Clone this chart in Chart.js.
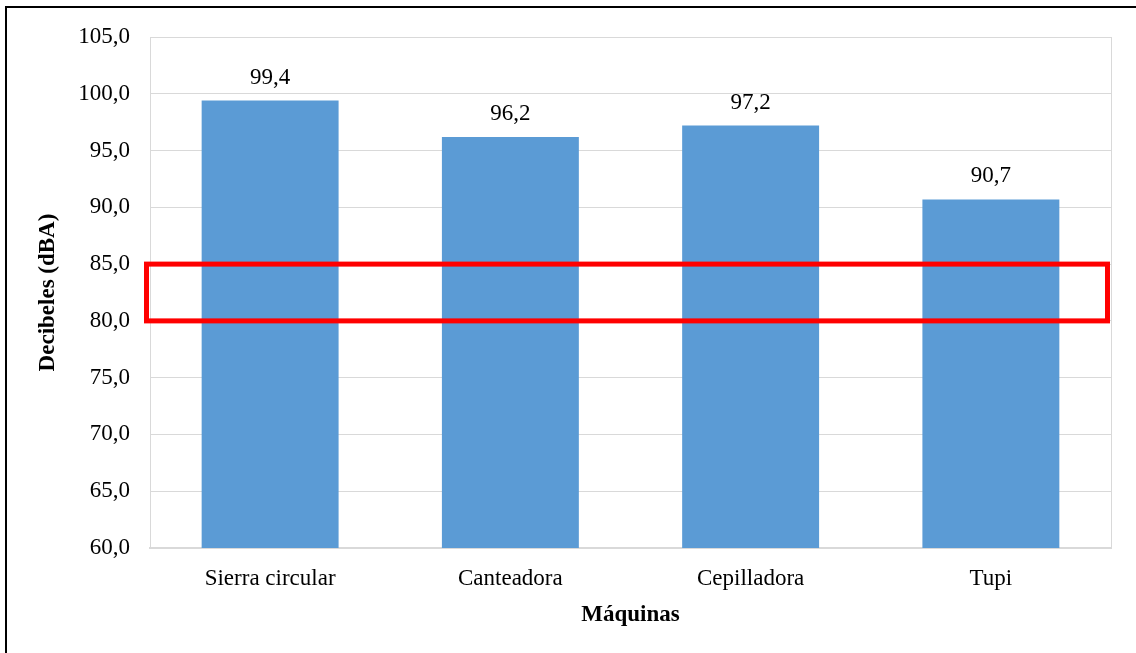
<!DOCTYPE html>
<html>
<head>
<meta charset="utf-8">
<script src="https://cdn.jsdelivr.net/npm/chart.js@4/dist/chart.umd.min.js"></script>
<style>
  html, body { margin: 0; padding: 0; background: #ffffff; }
  #wrap { width: 1136px; height: 653px; position: relative; }
</style>
</head>
<body>
<div id="wrap"><canvas id="chart" width="1136" height="653"></canvas></div>
<script>
// Noise level per machine (dBA)
const machines = ['Sierra circular', 'Canteadora', 'Cepilladora', 'Tupi'];
const decibels = [99.4, 96.2, 97.2, 90.7];
const yTicks = [60, 65, 70, 75, 80, 85, 90, 95, 100, 105];
// Exposure band highlighted on the chart (dBA)
const limitBand = [80, 85];

const fmt = v => v.toFixed(1).replace('.', ',');
const SERIF = '"Liberation Serif", "Times New Roman", serif';

const decorPlugin = {
  id: 'decor',
  beforeDraw(chart) {
    const { ctx, chartArea: a } = chart;
    ctx.save();
    ctx.fillStyle = '#ffffff';
    ctx.fillRect(0, 0, chart.width, chart.height);
    // outer frame: top and left edges
    ctx.strokeStyle = '#000000';
    ctx.lineWidth = 2;
    ctx.beginPath();
    ctx.moveTo(6, chart.height);
    ctx.lineTo(6, 7);
    ctx.lineTo(chart.width, 7);
    ctx.stroke();
    // right edge of the plot area
    ctx.strokeStyle = '#d9d9d9';
    ctx.lineWidth = 1;
    ctx.beginPath();
    ctx.moveTo(Math.round(a.right) + 0.5, a.top);
    ctx.lineTo(Math.round(a.right) + 0.5, a.bottom);
    ctx.stroke();
    ctx.restore();
  },
  afterDatasetsDraw(chart) {
    const { ctx, chartArea: a, scales } = chart;
    ctx.save();
    // value labels above the bars
    ctx.fillStyle = '#000000';
    ctx.font = '23px ' + SERIF;
    ctx.textAlign = 'center';
    ctx.textBaseline = 'alphabetic';
    const meta = chart.getDatasetMeta(0);
    meta.data.forEach((bar, i) => {
      ctx.fillText(fmt(decibels[i]), bar.x, bar.y - 17);
    });
    // highlighted band
    const yTop = scales.y.getPixelForValue(limitBand[1]);
    const yBot = scales.y.getPixelForValue(limitBand[0]);
    ctx.strokeStyle = '#ff0000';
    ctx.lineWidth = 5;
    ctx.strokeRect(a.left - 3.5, yTop, (a.right - 3.5) - (a.left - 3.5), yBot - yTop);
    ctx.restore();
  }
};

new Chart(document.getElementById('chart'), {
  type: 'bar',
  data: {
    labels: machines,
    datasets: [{
      data: decibels,
      backgroundColor: '#5b9bd5',
      borderWidth: 0,
      barPercentage: 0.57,
      categoryPercentage: 1
    }]
  },
  options: {
    responsive: false,
    animation: false,
    devicePixelRatio: 1,
    layout: { padding: { top: 37, right: 25, bottom: 0, left: 0 } },
    plugins: {
      legend: { display: false },
      tooltip: { enabled: false }
    },
    scales: {
      x: {
        grid: { display: false, drawTicks: false },
        border: { display: true, color: '#d9d9d9', width: 2 },
        ticks: { color: '#000000', font: { family: SERIF, size: 23 }, padding: 17, maxRotation: 0 },
        title: {
          display: true,
          text: 'Máquinas',
          color: '#000000',
          font: { family: SERIF, size: 23, weight: 'bold' },
          padding: { top: 0, bottom: 24 }
        },
        afterFit(scale) { scale.height = 653 - 548; }
      },
      y: {
        min: 60,
        max: 105,
        afterBuildTicks(axis) { axis.ticks = yTicks.map(v => ({ value: v })); },
        grid: { color: '#d9d9d9', lineWidth: 1, drawTicks: false },
        border: { display: true, color: '#d9d9d9', width: 1 },
        ticks: {
          color: '#000000',
          font: { family: SERIF, size: 23 },
          padding: 20,
          callback: v => fmt(v)
        },
        title: {
          display: true,
          text: 'Decibeles (dBA)',
          color: '#000000',
          font: { family: SERIF, size: 23, weight: 'bold' },
          padding: { top: 34, bottom: 0 }
        },
        afterFit(scale) { scale.width = 150; }
      }
    }
  },
  plugins: [decorPlugin]
});
</script>
</body>
</html>
